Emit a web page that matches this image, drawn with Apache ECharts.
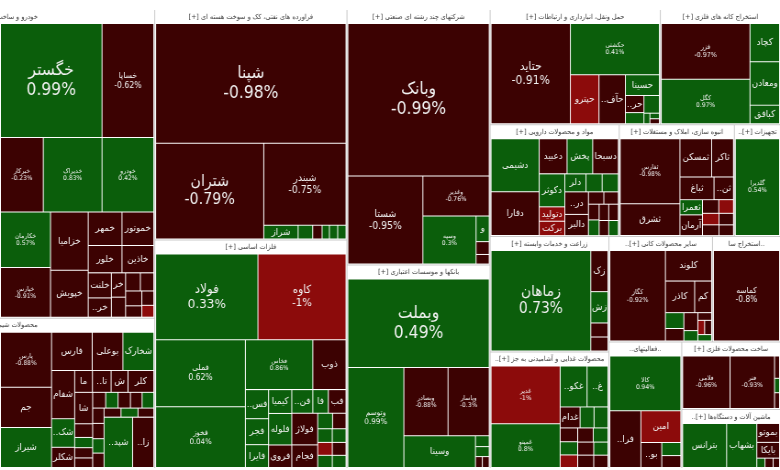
<!DOCTYPE html>
<html><head><meta charset="utf-8">
<script src="https://cdn.jsdelivr.net/npm/echarts@6.0.0/dist/echarts.min.js"></script>
<style>
html,body{margin:0;padding:0;background:#fff;}
#frame{width:780px;height:470px;overflow:hidden;position:relative;background:#fff;}
#chart{width:850px;height:470px;transform:scaleX(0.917647);transform-origin:0 0;}
</style></head><body>
<div id="frame"><div id="chart"></div></div>
<script>
// ---- data: [symbol, weight, change %]; a nested list is a cluster of tiles laid out together ----
const autoParts = [
 ['خگستر', 11424, 0.99], ['خساپا', 5824, -0.62], ['خبرکار', 3139, -0.23], ['خدیراک', 4307, 0.83], ['خودرو', 3796, 0.42],
 ['خکارمان', 2744, 0.57], ['خپارس', 2450, -0.91], ['خزامیا', 2166, -0.45], ['خپویش', 1748, -0.38],
 ['خمهر', 1120, -0.52], ['خموتور', 1056, -0.66], ['خلور', 910, -0.31], ['خاذین', 858, -0.47],
 ['خلنت', 572, -0.29], ['خریخته', 440, -0.6], ['خراسان', 340, -0.4], ['خفنر', 280, -0.2], ['خچرخش', 264, -0.35],
 ['خنصیر', 240, -0.5], ['خمحور', 238, -0.25], ['خرینگ', 182, -0.3], ['خوساز', 170, -0.55], ['ختور', 140, -1]
];
const chemicals = [
 ['پارس', 2750, -0.88], ['جم', 2000, -0.42], ['شیراز', 2000, 0.35],
 ['فارس', 1519, -0.55], ['بوعلی', 1147, -0.48], ['شخارک', 1156, 0.62], ['شفام', 1088, -0.7], ['شکربن', 646, 0.3],
 ['شکلر', 456, -0.4], ['مارون', 380, -0.33], ['تاپیکو', 399, -0.27], ['شسپا', 361, -0.5], ['کلر', 552, -0.62],
 ['شاراک', 552, -0.44], ['خارک', 240, -0.3], ['شفن', 180, 0.25], ['شبصیر', 180, -0.4], ['شکام', 168, -0.3],
 ['شصدف', 200, -0.2], ['شپاکسا', 190, 0.4], ['شرنگی', 190, -0.5], ['شگویا', 180, -0.3], ['شوینده', 180, 0.3],
 ['شلعاب', 170, -0.6], ['شنفت', 170, -0.25], ['شسینا', 160, 0.2], ['شفارس', 160, -0.35], ['شبهرن', 150, -0.45],
 ['شیپس', 150, 0.5], ['شالوم', 140, -0.3], ['شپدیس', 1404, 0.45], ['زاگرس', 1044, -0.6]
];
const refinery = [
 ['شپنا', 22230, -0.98], ['شتران', 10070, -0.79], ['شبندر', 6560, -0.75], ['شراز', 462, 0.35],
 ['شاوان', 196, 0.2], ['شبریز', 126, -0.3], ['شدانا', 98, 0.4], ['شپاس', 112, 0.3], ['شرانل', 112, 0.25]
];
const basicMetals = [
 ['فولاد', 8383, 0.33], ['کاوه', 7221, -1], ['فملی', 5742, 0.62], ['فخوز', 5220, 0.04], ['فخاس', 3216, 0.86],
 ['ذوب', 1584, -0.5], ['فسبزوار', 644, 0.4], ['فجر', 575, 0.3], ['فایرا', 506, 0.5], ['کیمیا', 529, 0.6],
 ['فلوله', 700, 0.2], ['فروی', 500, -0.4], ['فنورد', 475, 0.3], ['فاسمین', 350, 0.2], ['فباهنر', 400, -0.3],
 ['فولاژ', 784, -0.45], ['فجام', 560, -0.35], ['فسرب', 220, 0.3], ['فکمند', 200, -0.4], ['فگستر', 190, 0.2],
 ['فرآور', 180, 0.5], ['فمراد', 180, -1], ['فزرین', 170, 0.3], ['فنوال', 170, -0.3], ['فاما', 160, 0.25]
];
const holdings = [
 ['وبانک', 21450, -0.99], ['شستا', 6586, -0.95], ['وغدیر', 2652, -0.76], ['وسپه', 2544, 0.3],
 ['وصنا', 336, 0.4], ['ورنا', 168, -0.5], ['وتوکا', 126, -0.3]
];
const banks = [
 ['وبملت', 12012, 0.49], ['وتوسم', 5390, 0.99], ['وبصادر', 2904, -0.88], ['وپاسار', 2706, -0.3],
 ['وسینا', 2190, 0.86], ['وخاور', 144, 0.3], ['وکار', 132, 0.4], ['ودی', 72, -0.5], ['وآیند', 72, -0.3]
];
const transport = [
 ['حتاید', 7524, -0.91], ['حکشتی', 4320, 0.41], ['حپترو', 1323, -1], ['حآفرین', 1225, -0.55], ['حسینا', 665, 0.45],
 ['حریل', 300, -0.4], ['حفارس', 195, 0.3], ['حسیر', 260, 0.25], ['حبندر', 60, 0.2], ['حتوکا', 50, 0.3], ['حرهشا', 45, -0.2]
];
const metalOres = [
 [['فزر', 4698, -0.97], ['کگل', 3741, 0.97]], ['کچاد', 1073, 0.5], ['ومعادن', 1218, 0.35], ['کبافق', 522, 0.4]
];
const pharma = [
 ['دشیمی', 2279, 0.5], ['دفارا', 1892, -0.4], ['دعبید', 875, -0.6], ['پخش', 805, 0.3], ['دسبحا', 805, -0.45],
 ['دکوثر', 756, 0.4], ['دتولید', 330, -1], ['برکت', 330, -1], ['دلر', 340, 0.3], ['دپارس', 260, 0.2],
 ['دجابر', 260, 0.35], ['درهآور', 476, -0.5], ['دالبر', 448, -0.3], ['دزهراوی', 170, -0.3], ['داسوه', 160, -0.4],
 ['دقاضی', 150, -0.2], ['دکیمی', 150, 0.2], ['دسینا', 140, -0.5], ['دامین', 140, -0.3], ['ددام', 130, -0.25], ['دتماد', 130, 0.3]
];
const realEstate = [
 ['ثفارس', 3481, -0.98], ['ثشرق', 1711, -0.5], ['ثمسکن', 1088, -0.6], ['ثاکر', 748, -0.4], ['ثباغ', 693, -0.35],
 ['ثنوسا', 396, -0.45], ['ثعمرا', 308, 0.3], ['آرمان', 420, -0.3], ['ثامان', 200, -0.4], ['ثاصفا', 180, -1],
 ['ثتران', 170, -1], ['ثجنوب', 160, -0.3], ['ثالوند', 150, -0.2], ['ثنظام', 140, -0.5]
];
const equipment = [ ['گلدیرا', 4277, 0.54] ];
const farming = [ ['زماهان', 9700, 0.73], ['زکشت', 684, -0.4], ['زشگزا', 522, 0.3], ['زفکا', 234, -0.5], ['زپارس', 234, -0.3] ];
const food = [
 ['غدیر', 3618, -1], ['غمینو', 2747, 0.8], ['غکورش', 999, 0.45], ['غفارس', 777, 0.3], ['غدام', 380, -0.4],
 ['غپاک', 266, 0.25], ['آبادا', 266, 0.35], ['غشهد', 220, -0.3], ['غبهنوش', 210, 0.3], ['غسالم', 200, -1],
 ['غنوش', 200, -0.4], ['غگرجی', 190, 0.2], ['غپینو', 190, -0.3], ['غشصفا', 180, -0.5], ['غزر', 170, 0.4], ['غالبر', 160, -0.2]
];
const nonMetal = [
 ['کگاز', 4560, -0.92], ['کلوند', 1275, -0.5], ['کاذر', 837, -0.4], ['کمرجان', 486, -0.6], ['کسرا', 264, 0.3],
 ['کساوه', 209, -0.4], ['کفرا', 228, -0.3], ['کهمدا', 132, 0.3], ['کسعدی', 96, -0.4], ['کصدف', 88, -1], ['کپشیر', 90, -0.3], ['کایتا', 80, 0.2]
];
const otherMining = [ ['کماسه', 5644, -0.8] ];
const finAux = [ ['کالا', 3600, 0.94], ['فرابورس', 1632, -0.4], ['امین', 1170, -1], ['بورس', 483, -0.5], ['اطلس', 231, 0.3], ['ارزش', 210, -0.3] ];
const metalProducts = [ ['فلامی', 2640, -0.96], ['فنر', 2478, -0.93], ['ساروم', 119, -0.4], ['فتوسا', 77, 0.3], ['فجهان', 84, -0.3] ];
const electrical = [ ['بترانس', 1944, 0.6], ['بشهاب', 1334, 0.45], ['بموتو', 432, -0.5], ['بایکا', 360, -0.4], ['بکام', 77, 0.3], ['بنیرو', 77, -0.3], ['برلیس', 60, -0.2] ];

const sectorTitles = [
 'خودرو و ساخت قطعات [+]', 'محصولات شیمیایی [+]', 'فراورده های نفتی، کک و سوخت هسته ای [+]', 'فلزات اساسی [+]',
 'شرکتهای چند رشته ای صنعتی [+]', 'بانکها و موسسات اعتباری [+]', 'حمل ونقل، انبارداری و ارتباطات [+]',
 'استخراج کانه های فلزی [+]', 'مواد و محصولات دارویی [+]', 'انبوه سازی، املاک و مستغلات [+]', '..تجهیزات [+]',
 'زراعت و خدمات وابسته [+]', '..محصولات غذایی و آشامیدنی به جز [+]', '..سایر محصولات کانی [+]', 'استخراج سایر معادن [+]',
 '..فعالیتهای کمکی به نه [+]', 'ساخت محصولات فلزی [+]', '..ماشین آلات و دستگاه‌ها [+]'
];
const sectorWeights = [47740, 23250, 44160, 43776, 36465, 29029, 19550, 13800, 14396, 12840, 5136, 13664, 13786, 10880, 7138, 9180, 6640, 5810];
const sectorTiles = [autoParts, chemicals, refinery, basicMetals, holdings, banks, transport, metalOres, pharma,
  realEstate, equipment, farming, food, nonMetal, otherMining, finAux, metalProducts, electrical];
// order in which sectors are handed to the treemap; a nested list is laid out together as one block
const sectorOrder = [0, 1, 2, 3, 4, 5, 6, 7, 8, [9, 10], 11, 12, 13, 14, 15, 16, 17];

// ---- styling / build ----
const GREEN = '#0b5e0b', DARK = '#3c0202', RED = '#8c0b0b';
const RLM = '\u200F';
function tileColor(p) { return p > 0 ? GREEN : (p <= -1 ? RED : DARK); }
function leaf(t) {
  const name = t[0], v = t[1], p = t[2];
  const s = Math.sqrt(v);
  let text = '', fs = 9.5, lh = 12;
  if (v >= 2400) {
    fs = s >= 78 ? Math.min(17, 9.3 + (s - 78) * 0.28) : Math.max(6.5, 8.8 + (s - 78) * 0.2);
    lh = Math.round(fs * 1.15);
    text = name + '\n' + p + '%';
  } else if (v >= 300) {
    text = name;
  }
  return {
    name: name, value: v,
    itemStyle: { color: tileColor(p), borderWidth: 0 },
    label: { show: text !== '', formatter: text, fontSize: fs, lineHeight: lh }
  };
}
function tileNode(t) {
  if (Array.isArray(t[0])) {
    const kids = t.map(tileNode);
    return { name: '', value: kids.reduce((s, k) => s + k.value, 0), children: kids,
             itemStyle: { borderWidth: 0, gapWidth: 1, borderColor: '#ffffff' },
             upperLabel: { show: false }, label: { show: false } };
  }
  return leaf(t);
}
function sectorNode(i) {
  const up = { show: true, height: 14, color: '#383838', fontSize: 7, fontFamily: 'DejaVu Sans',
               formatter: sectorTitles[i] + RLM, overflow: 'truncate', ellipsis: '..',
               position: 'inside', align: 'center', verticalAlign: 'middle' };
  if (i === 0 || i === 1) { up.position = [40, 7]; up.align = 'right'; }
  return {
    name: sectorTitles[i], value: sectorWeights[i],
    children: sectorTiles[i].map(tileNode),
    itemStyle: { borderWidth: 1, borderColor: '#ffffff', gapWidth: 1 },
    upperLabel: up
  };
}
const treeData = sectorOrder.map(function (o) {
  if (Array.isArray(o)) {
    const kids = o.map(sectorNode);
    return { name: 'block', value: kids.reduce((s, k) => s + k.value, 0), children: kids,
             itemStyle: { borderWidth: 0, gapWidth: 1, borderColor: '#c9c9c9' }, upperLabel: { show: false } };
  }
  return sectorNode(o);
});

const chart = echarts.init(document.getElementById('chart'));
chart.setOption({
  animation: false,
  backgroundColor: '#ffffff',
  series: [{
    type: 'treemap',
    left: 0, top: 10, right: 0, bottom: 2,
    roam: false, nodeClick: false,
    breadcrumb: { show: false },
    sort: false,
    squareRatio: 1,
    visibleMin: 0,
    label: { show: true, color: '#f2f2f2', fontFamily: 'DejaVu Sans', padding: 0,
             overflow: 'truncate', ellipsis: '..' + RLM },
    upperLabel: { show: false },
    itemStyle: { borderWidth: 0, gapWidth: 0, borderColor: '#ffffff' },
    levels: [{ itemStyle: { borderWidth: 0, gapWidth: 1, borderColor: '#c9c9c9' }, upperLabel: { show: false } }],
    emphasis: { disabled: true },
    data: treeData
  }]
});
</script></body></html>
